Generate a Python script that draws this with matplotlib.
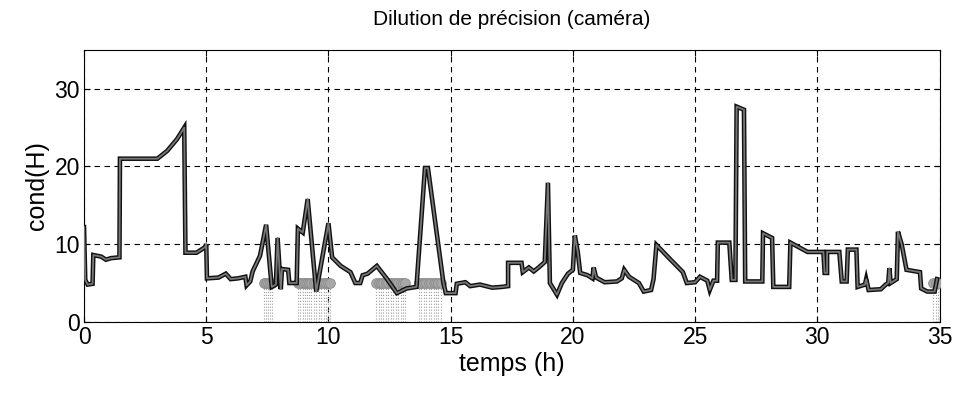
import matplotlib
matplotlib.use("Agg")
import matplotlib.pyplot as plt

plt.rcParams['font.family'] = ['Liberation Sans', 'DejaVu Sans']

# conditionnement de H au cours du temps (h)
t_hours = [0.0, 0.05, 0.15, 0.35, 0.38, 0.7, 0.9, 1.1, 1.45, 1.47, 2.4, 3.0, 3.4, 3.8, 4.1,
           4.15, 4.6, 4.95, 5.0, 5.03, 5.5, 5.8, 6.0, 6.3, 6.6, 6.65, 6.8, 6.9, 7.2, 7.45,
           7.68, 7.85, 7.92, 8.05, 8.1, 8.35, 8.4, 8.7, 8.75, 8.95, 9.15, 9.5, 10.0, 10.15,
           10.5, 10.9, 11.1, 11.3, 11.4, 11.6, 11.98, 12.4, 12.8, 13.2, 13.6, 13.95, 14.07,
           14.7, 14.8, 15.2, 15.25, 15.6, 15.8, 16.2, 16.7, 17.1, 17.35, 17.35, 17.9, 17.95,
           18.2, 18.4, 18.6, 18.85, 18.98, 19.06, 19.35, 19.55, 19.8, 20.0, 20.08, 20.2, 20.3,
           20.6, 20.8, 20.85, 20.95, 21.3, 21.8, 22.0, 22.1, 22.3, 22.7, 22.9, 23.2, 23.3,
           23.42, 24.0, 24.5, 24.66, 25.0, 25.2, 25.5, 25.6, 25.75, 25.9, 25.93, 26.4, 26.5,
           26.65, 26.7, 27.0, 27.05, 27.75, 27.78, 28.15, 28.2, 28.85, 28.9, 29.6, 30.25,
           30.3, 30.4, 30.4, 30.9, 31.0, 31.2, 31.25, 31.6, 31.65, 31.95, 32.0, 32.1, 32.6,
           32.8, 32.9, 32.95, 33.0, 33.25, 33.3, 33.45, 33.65, 34.0, 34.2, 34.25, 34.5, 34.8,
           34.9]
cond_h = [12.2, 5.4, 4.8, 4.9, 8.6, 8.4, 8.0, 8.2, 8.3, 21.0, 21.0, 21.0, 22.0, 23.5, 25.0,
          8.9, 8.9, 9.6, 10.0, 5.6, 5.7, 6.2, 5.5, 5.6, 5.8, 4.7, 5.2, 6.5, 8.5, 12.5,
          4.5, 4.8, 10.8, 4.2, 6.8, 6.7, 5.0, 5.0, 12.0, 11.5, 15.8, 3.9, 12.7, 8.3,
          7.2, 6.4, 5.0, 5.0, 6.0, 6.2, 7.2, 5.5, 3.7, 4.3, 4.5, 19.8, 19.8,
          5.1, 3.7, 3.7, 4.9, 5.1, 4.6, 4.8, 4.4, 4.5, 4.6, 7.6, 7.6, 6.4,
          7.0, 6.5, 7.0, 7.7, 17.9, 5.0, 3.5, 5.0, 6.2, 6.7, 11.1, 9.0, 6.3,
          6.0, 5.6, 7.0, 5.7, 5.1, 5.2, 5.6, 6.7, 5.8, 5.0, 3.9, 4.1, 5.5,
          9.9, 8.0, 6.4, 5.0, 5.1, 5.8, 5.3, 4.1, 5.3, 5.3, 10.2, 10.2, 5.4,
          5.4, 27.7, 27.3, 5.2, 5.2, 11.4, 10.8, 4.5, 4.5, 10.2, 9.0, 9.0,
          6.3, 6.3, 9.0, 9.0, 5.2, 5.2, 9.3, 9.3, 4.5, 4.8, 5.5, 4.1, 4.2,
          4.8, 5.0, 6.9, 5.0, 5.5, 11.6, 10.0, 6.7, 6.5, 6.4, 4.3, 3.9, 3.9,
          5.5]

# instants ou la camera est marquee (cercles gris a cond = 5)
t_events = [7.35, 7.45, 7.52, 7.6, 7.68, 8.75, 8.85, 8.95, 9.05, 9.12, 9.2, 9.3, 9.4, 9.5,
            9.6, 9.7, 9.8, 9.9, 10.0, 10.08, 11.95, 12.05, 12.15, 12.25, 12.35, 12.45, 12.55,
            12.65, 12.75, 12.85, 12.95, 13.05, 13.15, 13.7, 13.8, 13.9, 14.0, 14.1, 14.2,
            14.3, 14.4, 14.5, 14.6, 34.75, 34.85, 34.95]
event_level = 5

fig = plt.figure(figsize=(9.58, 3.93), dpi=100)
ax = fig.add_axes([0.0877, 0.181, 0.893, 0.692])

ax.vlines(t_events, 0, event_level, colors='#a0a0a0', linestyles=':', lw=0.8, zorder=2)
ax.plot(t_events, [event_level] * len(t_events), 'o', ms=7, color='#a8a8a8',
        mec='#8a8a8a', mew=0.6, zorder=3)

ax.plot(t_hours, cond_h, color='#111111', lw=3.3, solid_joinstyle='miter', zorder=4)
ax.plot(t_hours, cond_h, color='#777777', lw=1.3, zorder=5)

ax.set_xlim(0, 35)
ax.set_ylim(0, 35)
ax.set_xticks(range(0, 36, 5))
ax.set_yticks([0, 10, 20, 30])
ax.grid(True, color='black', linestyle=(0, (5, 4)), lw=0.8)
ax.tick_params(direction='in', labelsize=16.5, length=4, width=0.8, pad=3,
               top=True, right=True)
for s in ax.spines.values():
    s.set_linewidth(0.8)

ax.set_title('Dilution de précision (caméra)', fontsize=15, pad=18)
ax.set_xlabel('temps (h)', fontsize=18, labelpad=2)
ax.set_ylabel('cond(H)', fontsize=18, labelpad=4)

fig.savefig('out.png', dpi=100)
